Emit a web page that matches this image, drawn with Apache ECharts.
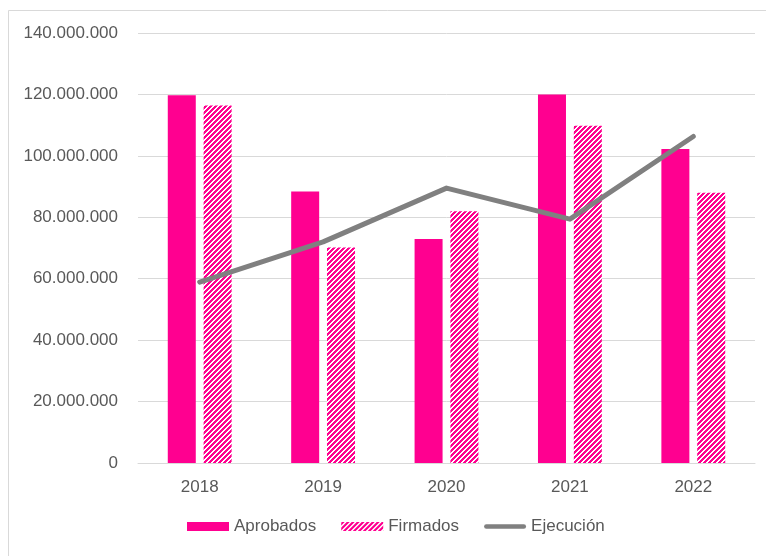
<!DOCTYPE html>
<html>
<head>
<meta charset="utf-8">
<script src="https://cdn.jsdelivr.net/npm/echarts@6/dist/echarts.min.js"></script>
<style>
html,body{margin:0;padding:0;background:#fff;}
#chart{width:766px;height:556px;}
</style>
</head>
<body>
<div id="chart"></div>
<script>
const categories = ['2018', '2019', '2020', '2021', '2022'];
const aprobados = [119700000, 88400000, 72900000, 120000000, 102200000];
const firmados = [116400000, 70200000, 82000000, 109800000, 88000000];
const ejecucion = [58900000, 72000000, 89500000, 79400000, 106300000];
const yTicks = [0, 20000000, 40000000, 60000000, 80000000, 100000000, 120000000, 140000000];

const PINK = '#FF0090';
const GRAY = '#808080';
const TEXT = '#595959';
const GRID = '#D9D9D9';
const FONT = '"Liberation Sans", Arial, sans-serif';

function hatch() {
  const n = 5;
  const c = document.createElement('canvas');
  c.width = n; c.height = n;
  const ctx = c.getContext('2d');
  ctx.fillStyle = '#ffffff';
  ctx.fillRect(0, 0, n, n);
  ctx.fillStyle = PINK;
  for (let y = 0; y < n; y++) {
    for (let x = 0; x < n; x++) {
      const m = (x + y) % n;
      if (m <= 2) ctx.fillRect(x, y, 1, 1);
    }
  }
  return c;
}

function fmt(v) {
  return String(v).replace(/\B(?=(\d{3})+(?!\d))/g, '.');
}

const chart = echarts.init(document.getElementById('chart'), null, {renderer: 'canvas'});
chart.setOption({
  backgroundColor: '#ffffff',
  animation: false,
  textStyle: {fontFamily: FONT},
  graphic: [{
    type: 'rect',
    shape: {x: 8.5, y: 10.5, width: 800, height: 600},
    style: {fill: 'none', stroke: GRID, lineWidth: 1},
    silent: true,
    z: -10
  }],
  grid: {left: 138, right: 11, top: 33, bottom: 93, containLabel: false},
  legend: {
    bottom: 16,
    left: 182,
    itemWidth: 42,
    itemHeight: 9,
    itemGap: 25,
    textStyle: {color: TEXT, fontSize: 17, fontFamily: FONT},
    data: [
      {name: 'Aprobados', icon: 'rect'},
      {name: 'Firmados', icon: 'rect'},
      {name: 'Ejecución', icon: 'path://M0,0 M0,2.5 L42,2.5 A2.5,2.5 0 0 1 42,7.5 L0,7.5 A2.5,2.5 0 0 1 0,2.5 Z M42,10'}
    ]
  },
  xAxis: {
    type: 'category',
    data: categories,
    axisLine: {show: true, lineStyle: {color: GRID, width: 1}},
    axisTick: {show: false},
    axisLabel: {color: TEXT, fontSize: 17, margin: 16, fontFamily: FONT}
  },
  yAxis: {
    type: 'value',
    min: 0,
    max: 140000000,
    interval: 20000000,
    axisLine: {show: false},
    axisTick: {show: false},
    splitLine: {lineStyle: {color: GRID, width: 1}},
    axisLabel: {
      color: TEXT, fontSize: 17, margin: 20, fontFamily: FONT,
      formatter: function (v) { return yTicks.indexOf(v) >= 0 ? fmt(v) : ''; }
    }
  },
  series: [
    {
      name: 'Aprobados',
      type: 'bar',
      data: aprobados,
      barWidth: 28,
      barGap: '28%',
      itemStyle: {color: PINK}
    },
    {
      name: 'Firmados',
      type: 'bar',
      data: firmados,
      barWidth: 28,
      itemStyle: {color: {image: hatch(), repeat: 'repeat'}}
    },
    {
      name: 'Ejecución',
      type: 'line',
      data: ejecucion,
      symbol: 'none',
      itemStyle: {color: GRAY},
      lineStyle: {color: GRAY, width: 5, cap: 'round', join: 'round'},
      z: 5
    }
  ]
});
</script>
</body>
</html>
